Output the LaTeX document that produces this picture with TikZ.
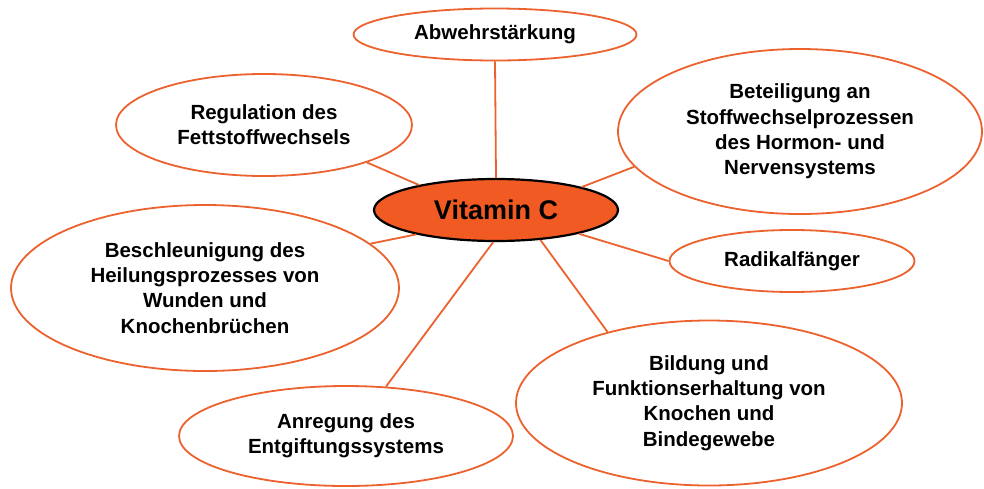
\documentclass[tikz,border=0pt]{standalone}
\usepackage{fontspec}
\setmainfont{Liberation Sans}
\usetikzlibrary{shapes.geometric}
\definecolor{vcorange}{RGB}{241,90,34}
\definecolor{vcline}{RGB}{236,98,46}
\tikzset{
  bubble/.style={ellipse, draw=vcline, line width=1.8pt, fill=white, inner sep=0pt,
    align=center, font=\fontsize{20.5}{25.3}\selectfont\bfseries},
  hub/.style={ellipse, draw=black, line width=2.2pt, fill=vcorange, inner sep=0pt,
    align=center, font=\fontsize{27}{32}\selectfont\bfseries},
  link/.style={draw=vcline, line width=1.8pt}
}
\begin{document}
\begin{tikzpicture}[x=1pt,y=-1pt]
\useasboundingbox (0,0) rectangle (984,488);
% nodes
\node[hub, minimum width=244, minimum height=62] (vit) at (496,210) {Vitamin C};
\node[bubble, minimum width=283, minimum height=52] (abw) at (495,34.5) {Abwehrstärkung};
\node[bubble, minimum width=296, minimum height=102] (reg) at (264,125) {Regulation des\\Fettstoffwechsels};
\node[bubble, minimum width=364, minimum height=165] (bet) at (800,131.5) {Beteiligung an\\Stoffwechselprozessen\\des Hormon- und\\Nervensystems};
\node[bubble, minimum width=245, minimum height=62] (rad) at (792,261) {Radikalfänger};
\node[bubble, minimum width=388, minimum height=166] (bes) at (205,288) {Beschleunigung des\\Heilungsprozesses von\\Wunden und\\Knochenbrüchen};
\node[bubble, minimum width=334, minimum height=100] (anr) at (346,436) {Anregung des\\Entgiftungssystems};
\node[bubble, minimum width=386, minimum height=165] (bil) at (709,403) {Bildung und\\Funktionserhaltung von\\Knochen und\\Bindegewebe};
% connectors
\draw[link] (vit.90) -- (abw.270);
\draw[link] (vit.162) -- (reg.-20);
\draw[link] (vit.15.6) -- (bet.-168.8);
\draw[link] (vit.-16) -- (rad.180);
\draw[link] (vit.-163.8) -- (bes.15.9);
\draw[link] (vit.-95) -- (anr.51.7);
\draw[link] (vit.-34.3) -- (bil.145.8);
\end{tikzpicture}
\end{document}
